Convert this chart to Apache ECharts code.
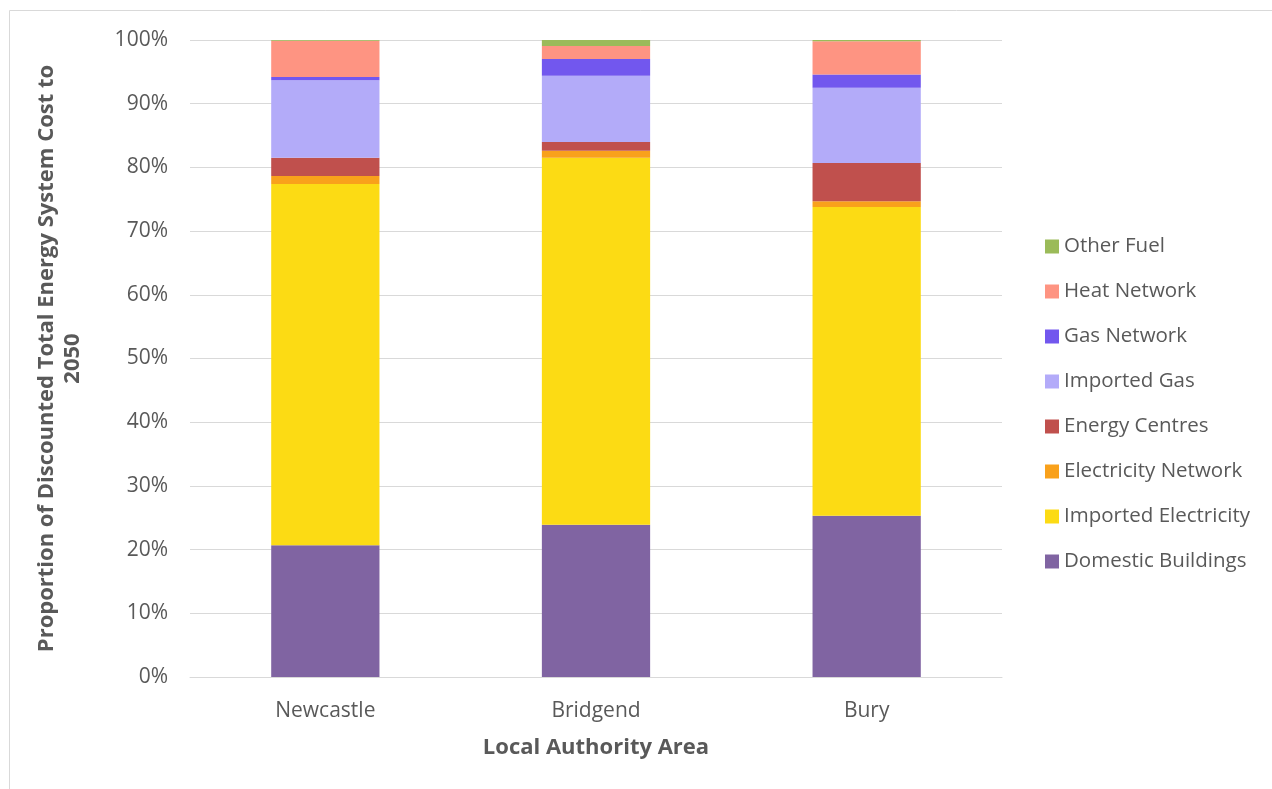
<!DOCTYPE html>
<html><head><meta charset="utf-8">
<script src="https://cdn.jsdelivr.net/npm/echarts@6/dist/echarts.min.js"></script>
<style>html,body{margin:0;padding:0;background:#fff}#c{width:1272px;height:789px}</style>
</head><body><div id="c"></div>
<script>
const categories = ['Newcastle', 'Bridgend', 'Bury'];
const seriesNames = ['Domestic Buildings', 'Imported Electricity', 'Electricity Network', 'Energy Centres', 'Imported Gas', 'Gas Network', 'Heat Network', 'Other Fuel'];
const seriesColors = ['#8064A2', '#FCDB14', '#F9A11B', '#C0504D', '#B3ABF9', '#7257EE', '#FE9482', '#9BBB59'];
const domesticBuildings   = [20.7, 23.9, 25.3];
const importedElectricity = [56.7, 57.6, 48.5];
const electricityNetwork  = [1.25, 1.1, 0.9];
const energyCentres       = [2.85, 1.4, 6.0];
const importedGas         = [12.2, 10.4, 11.8];
const gasNetwork          = [0.5, 2.6, 2.1];
const heatNetwork         = [5.7, 2.05, 5.2];
const otherFuel           = [0.1, 0.95, 0.2];
const seriesValues = [domesticBuildings, importedElectricity, electricityNetwork, energyCentres, importedGas, gasNetwork, heatNetwork, otherFuel];

const font = 'Open Sans';
const txt = '#595959';
const chart = echarts.init(document.getElementById('c'));
chart.setOption({
  animation: false,
  graphic: [{type: 'polyline', shape: {points: [[9.5, 789], [9.5, 10.5], [1272, 10.5]]}, style: {stroke: '#d9d9d9', lineWidth: 1, fill: null}}],
  grid: {left: 190, right: 270, top: 40, bottom: 112},
  legend: {
    orient: 'vertical', left: 1045, top: 236, padding: 0, itemGap: 24, itemWidth: 14, itemHeight: 14,
    icon: 'rect',
    data: seriesNames.slice().reverse(),
    textStyle: {fontFamily: font, fontSize: 20.5, lineHeight: 21, color: txt}
  },
  xAxis: {
    type: 'category', data: categories,
    axisLine: {lineStyle: {color: '#d9d9d9'}}, axisTick: {show: false},
    axisLabel: {fontFamily: font, fontSize: 21, color: txt, margin: 24},
    name: 'Local Authority Area', nameLocation: 'middle', nameGap: 60,
    nameTextStyle: {fontFamily: font, fontSize: 22, fontWeight: 'bold', color: txt}
  },
  yAxis: {
    type: 'value', min: 0, max: 100, interval: 10,
    axisLine: {show: false}, axisTick: {show: false},
    splitLine: {lineStyle: {color: '#d9d9d9'}},
    axisLabel: {fontFamily: font, fontSize: 21, color: txt, margin: 22, formatter: v => v + '%'},
    name: 'Proportion of Discounted Total Energy System Cost to\n2050', nameLocation: 'middle', nameGap: 104, nameRotate: 90,
    nameTextStyle: {fontFamily: font, fontSize: 22, fontWeight: 'bold', color: txt, lineHeight: 26}
  },
  series: seriesNames.map((n, i) => ({
    name: n, type: 'bar', stack: 'total', barWidth: '40%',
    itemStyle: {color: seriesColors[i]},
    data: seriesValues[i]
  }))
});
</script></body></html>
